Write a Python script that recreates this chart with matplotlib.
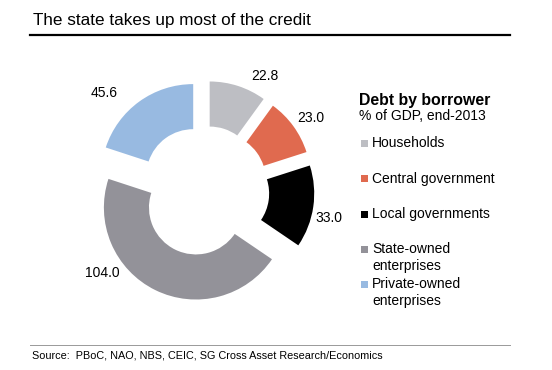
import matplotlib.pyplot as plt
from matplotlib.patches import Rectangle
from matplotlib.lines import Line2D

plt.rcParams['font.family'] = ['Liberation Sans', 'DejaVu Sans']

# data
borrowers = ['Households', 'Central government', 'Local governments',
             'State-owned\nenterprises', 'Private-owned\nenterprises']
debt = [22.8, 23.0, 33.0, 104.0, 45.6]
colors = ['#bdbec3', '#e06a4f', '#000000', '#939299', '#98bae1']

# where the value labels sit (data units, radius = 1)
label_xy = [(0.66, 1.25), (1.16, 0.79), (1.36, -0.29), (-1.10, -0.89), (-1.09, 1.07)]

W, H = 552, 370
fig = plt.figure(figsize=(W / 100, H / 100), dpi=100)

# donut centred at pixel (204, 191), outer radius 92 px
cx, cy, R, L = 204, 191, 92, 1.35
side = 2 * L * R
ax = fig.add_axes([(cx - side / 2) / W, (H - cy - side / 2) / H, side / W, side / H])
ax.pie(debt, colors=colors, startangle=90, counterclock=False,
       explode=[0.2] * len(debt), radius=1,
       wedgeprops=dict(width=0.49, linewidth=0))
ax.set_xlim(-L, L)
ax.set_ylim(-L, L)
ax.set_aspect('equal')
ax.axis('off')

for v, (x, y) in zip(debt, label_xy):
    ax.text(x, y, '{:.1f}'.format(v), ha='center', va='center', fontsize=10)

# title and rules
fig.text(33 / W, 1 - 20 / H, 'The state takes up most of the credit',
         fontsize=12.3, va='center', ha='left')
fig.add_artist(Line2D([30 / W, 510 / W], [1 - 35 / H, 1 - 35 / H], color='black', lw=1.6))
fig.add_artist(Line2D([30 / W, 510 / W], [1 - 345 / H, 1 - 345 / H], color='#999999', lw=0.7))
fig.text(32 / W, 1 - 356 / H, 'Source:  PBoC, NAO, NBS, CEIC, SG Cross Asset Research/Economics',
         fontsize=7.8, va='center', ha='left')

# legend drawn by hand
fig.text(359 / W, 1 - 101 / H, 'Debt by borrower', fontsize=11.4, fontweight='bold', va='center')
fig.text(359 / W, 1 - 116 / H, '% of GDP, end-2013', fontsize=10, va='center')
entry_y = [143, 179, 214, 257.5, 292.5]
for lab, col, y in zip(borrowers, colors, entry_y):
    first_y = y - 8.5 if '\n' in lab else y
    fig.add_artist(Rectangle((361 / W, 1 - (first_y + 3.5) / H), 7 / W, 7 / H,
                             facecolor=col, edgecolor='none', transform=fig.transFigure))
    fig.text(372 / W, 1 - y / H, lab, fontsize=10, va='center', linespacing=1.2)

plt.savefig('out.png', dpi=100)
